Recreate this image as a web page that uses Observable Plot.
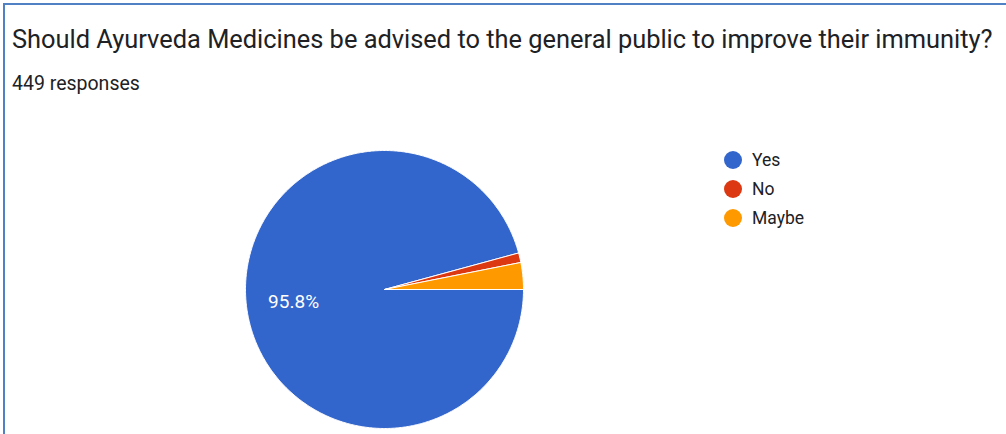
<!DOCTYPE html>
<html>
<head>
<meta charset="utf-8">
<script src="https://cdn.jsdelivr.net/npm/d3@7"></script>
<script src="https://cdn.jsdelivr.net/npm/@observablehq/plot@0.6"></script>
<style>
  html, body { margin: 0; padding: 0; background: #fff; }
  body { width: 1006px; height: 434px; overflow: hidden; position: relative; font-family: Roboto, "Noto Sans", Arial, sans-serif; }
  #frame { position: absolute; left: 3px; top: 3px; width: 1003px; height: 431px; border-top: 2px solid #4f81c4; border-left: 2px solid #4f81c4; box-sizing: border-box; }
  #title { position: absolute; left: 12px; top: 27px; font-size: 25.4px; line-height: 1; color: #202124; white-space: nowrap; }
  #subtitle { position: absolute; left: 12px; top: 74px; font-size: 19.5px; line-height: 1; color: #202124; white-space: nowrap; }
  #chart { position: absolute; left: 0; top: 110px; }
  #legend { position: absolute; left: 724px; top: 145px; font-size: 17.5px; color: #202124; }
  #legend .item { display: flex; align-items: center; height: 29px; }
  #legend .sw { width: 18px; height: 18px; border-radius: 50%; margin-right: 10px; }
</style>
</head>
<body>
<div id="frame"></div>
<div id="title">Should Ayurveda Medicines be advised to the general public to improve their immunity?</div>
<div id="subtitle">449 responses</div>
<div id="chart"></div>
<div id="legend"></div>
<script>
const categories = ["Yes", "No", "Maybe"];
const counts = [430, 5, 14];
const colors = ["#3366cc", "#dc3912", "#ff9900"];
const totalResponses = 449;

const data = categories.map((c, i) => ({category: c, count: counts[i]}));
const pie = d3.pie().sort(null).value(d => d.count)
  .startAngle(Math.PI / 2).endAngle(Math.PI / 2 + 2 * Math.PI);
const arcs = pie(data);

// Build slice outlines in unit-circle coordinates (y up)
const pts = [];
arcs.forEach(a => {
  const cat = a.data.category;
  pts.push({category: cat, x: 0, y: 0});
  const n = Math.max(4, Math.ceil((a.endAngle - a.startAngle) / 0.01));
  for (let k = 0; k <= n; k++) {
    const t = a.startAngle + (a.endAngle - a.startAngle) * k / n;
    pts.push({category: cat, x: Math.sin(t), y: Math.cos(t)});
  }
  pts.push({category: cat, x: 0, y: 0});
});

const labels = arcs
  .filter(a => a.data.count / totalResponses > 0.05)
  .map(a => {
    const m = (a.startAngle + a.endAngle) / 2;
    return {x: 0.66 * Math.sin(m), y: 0.66 * Math.cos(m),
            text: (100 * a.data.count / totalResponses).toFixed(1) + "%"};
  });

const cx = 384, cy = 179, r = 139;
const chart = Plot.plot({
  width: 1006,
  height: 324,
  margin: 0,
  x: {domain: [-1, 1], range: [cx - r, cx + r], axis: null},
  y: {domain: [-1, 1], range: [cy + r, cy - r], axis: null},
  color: {domain: categories, range: colors},
  style: {fontFamily: "Roboto, 'Noto Sans', Arial, sans-serif", background: "transparent"},
  marks: [
    Plot.line(pts, {x: "x", y: "y", z: "category", fill: "category", stroke: "white", strokeWidth: 1, curve: "linear"}),
    Plot.text(labels, {x: "x", y: "y", text: "text", fill: "white", fontSize: 19})
  ]
});
document.getElementById("chart").appendChild(chart);

const legend = document.getElementById("legend");
categories.forEach((c, i) => {
  const it = document.createElement("div");
  it.className = "item";
  it.innerHTML = `<span class="sw" style="background:${colors[i]}"></span><span>${c}</span>`;
  legend.appendChild(it);
});
</script>
</body>
</html>
